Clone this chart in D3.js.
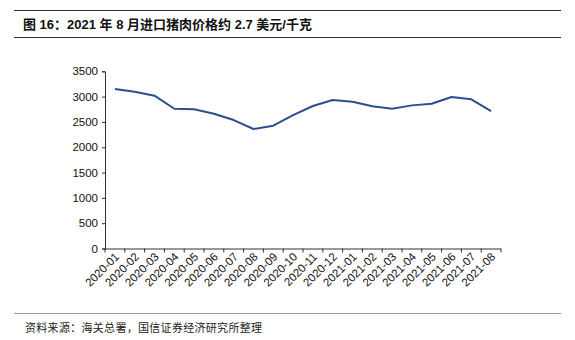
<!DOCTYPE html>
<html>
<head>
<meta charset="utf-8">
<script src="https://cdn.jsdelivr.net/npm/d3@7"></script>
<style>
  html, body { margin: 0; padding: 0; background: #fff; }
  svg { display: block; }
</style>
</head>
<body>
<svg id="chart" width="575" height="340"></svg>
<script>
// Monthly import pork price (USD per tonne)
const months = ["2020-01","2020-02","2020-03","2020-04","2020-05","2020-06","2020-07","2020-08",
  "2020-09","2020-10","2020-11","2020-12","2021-01","2021-02","2021-03","2021-04",
  "2021-05","2021-06","2021-07","2021-08"];
const prices = [3150, 3097, 3018, 2761, 2749, 2662, 2537, 2360,
  2425, 2636, 2814, 2932, 2899, 2808, 2761, 2827,
  2860, 2992, 2946, 2715];
const yTicks = [0, 500, 1000, 1500, 2000, 2500, 3000, 3500];

const titleText = "图 16：2021 年 8 月进口猪肉价格约 2.7 美元/千克";
const sourceText = "资料来源：海关总署，国信证券经济研究所整理";

const svg = d3.select("#chart");
const cjk = "'Liberation Sans', Arial, 'Noto Sans CJK SC', sans-serif";

// header and footer rules
svg.append("line").attr("x1", 14).attr("x2", 561).attr("y1", 10.5).attr("y2", 10.5)
  .attr("stroke", "#333").attr("stroke-width", 1.2);
svg.append("line").attr("x1", 14).attr("x2", 561).attr("y1", 37.5).attr("y2", 37.5)
  .attr("stroke", "#333").attr("stroke-width", 1);
svg.append("line").attr("x1", 14).attr("x2", 561).attr("y1", 313.5).attr("y2", 313.5)
  .attr("stroke", "#999").attr("stroke-width", 1);

svg.append("text").attr("x", 23).attr("y", 29)
  .attr("font-family", cjk).attr("font-weight", "bold").attr("font-size", 13)
  .attr("fill", "#111").text(titleText);

svg.append("text").attr("x", 25).attr("y", 332)
  .attr("font-family", "'Noto Sans CJK SC', sans-serif").attr("font-size", 11)
  .attr("letter-spacing", 0.3).attr("fill", "#222").text(sourceText);

const plotLeft = 105, plotRight = 501, plotTop = 71.3, plotBottom = 248.5;

const x = d3.scaleBand().domain(months).range([plotLeft, plotRight]);
const y = d3.scaleLinear().domain([0, 3500]).range([plotBottom, plotTop]);

// y axis
const yAxis = svg.append("g").attr("transform", `translate(${plotLeft},0)`)
  .call(d3.axisLeft(y).tickValues(yTicks).tickFormat(d3.format("d")).tickSize(3).tickPadding(4));
yAxis.selectAll("text").attr("font-family", "'Liberation Sans', Arial, sans-serif")
  .attr("font-size", 11.5).attr("fill", "#111");
yAxis.selectAll("line, path").attr("stroke", "#333");

// x axis: ticks at band edges, labels rotated
const xAxis = svg.append("g").attr("transform", `translate(0,${plotBottom})`);
xAxis.append("line").attr("x1", plotLeft).attr("x2", plotRight).attr("y1", 0.5).attr("y2", 0.5)
  .attr("stroke", "#333");
const edges = months.map(m => x(m)).concat([plotRight]);
xAxis.selectAll("line.tick").data(edges).join("line").attr("class", "tick")
  .attr("x1", d => d).attr("x2", d => d).attr("y1", 0).attr("y2", 4)
  .attr("stroke", "#333");
xAxis.selectAll("text").data(months).join("text")
  .attr("transform", d => `translate(${x(d) + x.bandwidth() / 2 + 5},${9}) rotate(-45)`)
  .attr("text-anchor", "end")
  .attr("font-family", "'Liberation Sans', Arial, sans-serif")
  .attr("font-size", 11.5).attr("fill", "#111")
  .text(d => d);

// price line
const line = d3.line()
  .x((d, i) => x(months[i]) + x.bandwidth() / 2)
  .y(d => y(d));
svg.append("path").datum(prices).attr("d", line)
  .attr("fill", "none").attr("stroke", "#2a4f8a").attr("stroke-width", 2)
  .attr("stroke-linejoin", "round");
</script>
</body>
</html>
